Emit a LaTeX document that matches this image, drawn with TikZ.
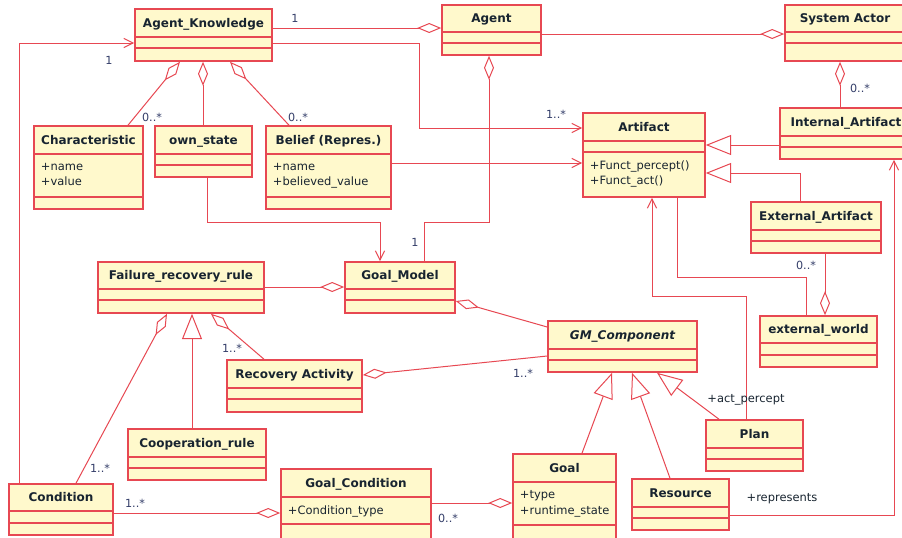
\documentclass[tikz,border=0pt]{standalone}
\usepackage{fontspec}
\setmainfont{DejaVu Sans}
\usetikzlibrary{arrows.meta,fit,calc}

\definecolor{umlred}{RGB}{231,72,82}
\definecolor{umlfill}{RGB}{255,249,204}
\definecolor{umltext}{RGB}{24,36,48}
\definecolor{umlmult}{RGB}{52,62,105}

\newcommand{\umlclass}[9]{%
  \coordinate (#1-a) at (#2,#3);
  \coordinate (#1-b) at (#4,#5);
  \node[clsbox, fit=(#1-a)(#1-b)] (#1) {};
  \draw[clsline] (#2,#6) -- (#4,#6);
  \draw[clsline] (#2,#7) -- (#4,#7);
  \node[clstitle] (#1-t) at ($(#2,#3)!0.5!(#4,#6)$) {#8};
  \node[clsattr] (#1-f) at (#2,#6) {#9};
}

\begin{document}
\begin{tikzpicture}[x=0.75pt,y=0.75pt,yscale=-1,xscale=1,
    umlline/.style={draw=umlred, line width=0.75pt},
    clsline/.style={draw=umlred, line width=1.2pt},
    clsbox/.style={clsline, fill=umlfill, inner sep=0pt},
    clstitle/.style={text=umltext, font=\fontsize{9}{11}\selectfont\bfseries, inner sep=0pt, text height=1.5ex, text depth=0.3ex},
    clsattr/.style={text=umltext, font=\fontsize{8.6}{11.5}\selectfont, anchor=north west, align=left, inner xsep=5pt, inner ysep=6.5pt},
    mult/.style={text=umlmult, font=\fontsize{8.4}{10}\selectfont, inner sep=0pt},
    role/.style={text=umltext, font=\fontsize{8.6}{10}\selectfont, inner sep=0pt},
    agg/.style={umlline, {Diamond[open, length=18pt, width=7.5pt]}-},
    nav/.style={umlline, -{Straight Barb[length=7pt, width=7pt]}},
    gen/.style={umlline, -{Triangle[open, length=19pt, width=15pt]}}]
\useasboundingbox[fill=white] (0,0) rectangle (902,537);

% classes
\umlclass{ak}{135}{9}{272}{61}{37}{48}{Agent\_Knowledge}{}
\umlclass{agent}{442}{5}{541}{55}{32}{43}{Agent}{}
\umlclass{sysact}{785}{5}{905}{61}{32}{43}{System Actor}{}
\umlclass{intart}{780}{108}{912}{159}{136}{147}{Internal\_Artifact}{}
\umlclass{artifact}{583}{113}{705}{197}{141}{152}{Artifact}{}
\node[clsattr] (artifact-op) at (583,152) {+Funct\_percept()\\+Funct\_act()};
\umlclass{extart}{751}{202}{881}{253}{230}{241}{External\_Artifact}{}
\umlclass{extworld}{760}{316}{877}{367}{343}{355}{external\_world}{}
\umlclass{charac}{34}{126}{143}{209}{154}{197}{Characteristic}{+name\\+value}
\umlclass{ownstate}{155}{126}{252}{177}{154}{165}{own\_state}{}
\umlclass{belief}{266}{126}{391}{209}{154}{197}{Belief (Repres.)}{+name\\+believed\_value}
\umlclass{frr}{98}{262}{264}{313}{289}{300}{Failure\_recovery\_rule}{}
\umlclass{goalmodel}{345}{262}{455}{313}{289}{300}{Goal\_Model}{}
\umlclass{recact}{227}{360}{362}{412}{388}{399}{Recovery Activity}{}
\umlclass{coop}{128}{429}{266}{480}{457}{468}{Cooperation\_rule}{}
\umlclass{cond}{9}{484}{113}{535}{511}{523}{Condition}{}
\umlclass{goalcond}{281}{469}{431}{540}{497}{524}{Goal\_Condition}{+Condition\_type}
\umlclass{gmcomp}{548}{321}{697}{372}{349}{360}{\itshape GM\_Component}{}
\umlclass{plan}{706}{420}{803}{471}{448}{459}{Plan}{}
\umlclass{goal}{513}{454}{616}{545}{482}{525}{Goal}{+type\\+runtime\_state}
\umlclass{resource}{632}{479}{729}{530}{507}{518}{Resource}{}

% associations
\draw[agg] (agent.west |- 0,28) -- (ak.east |- 0,28);
\draw[agg] (sysact.west |- 0,34) -- (agent.east |- 0,34);
\draw[nav] (ak.east |- 0,43) -- (419,43) |- (artifact.west |- 0,128);
\draw[nav] (belief.east |- 0,163) -- (artifact.west |- 0,163);
\draw[agg] (ak.south -| 180,0) -- (charac.north -| 128,0);
\draw[agg] (ak.south -| 203,0) -- (ownstate.north -| 203,0);
\draw[agg] (ak.south -| 230,0) -- (belief.north -| 289,0);
\draw[nav] (cond.north -| 19,0) |- (ak.west |- 0,43);
\draw[agg] (agent.south -| 489,0) -- (489,222) -| (goalmodel.north -| 424,0);
\draw[nav] (ownstate.south -| 207,0) -- (207,222) -| (goalmodel.north -| 380,0);
\draw[agg] (goalmodel.west |- 0,287) -- (frr.east |- 0,287);
\draw[agg] (goalmodel.east |- 0,301) -- (gmcomp.west |- 0,327);
\draw[agg] (recact.east |- 0,375) -- (gmcomp.west |- 0,356);
\draw[agg] (frr.south -| 167,0) -- (cond.north -| 76,0);
\draw[gen] (coop.north -| 192,0) -- (frr.south -| 192,0);
\draw[agg] (frr.south -| 211,0) -- (recact.north -| 264,0);
\draw[agg] (goalcond.west |- 0,513) -- (cond.east |- 0,513);
\draw[agg] (goal.west |- 0,503) -- (goalcond.east |- 0,503);
\draw[gen] (goal.north -| 582,0) -- (gmcomp.south -| 612,0);
\draw[gen] (resource.north -| 670,0) -- (gmcomp.south -| 632,0);
\draw[gen] (plan.north -| 719,0) -- (gmcomp.south -| 657,0);
\draw[nav] (plan.north -| 746,0) -- (746,296) -| (artifact.south -| 652,0);
\draw[umlline] (artifact.south -| 677,0) -- (677,277) -| (extworld.north -| 806,0);
\draw[agg] (extworld.north -| 825,0) -- (extart.south -| 825,0);
\draw[gen] (extart.north -| 800,0) |- (artifact.east |- 0,173);
\draw[gen] (intart.west |- 0,145) -- (artifact.east |- 0,145);
\draw[agg] (sysact.south -| 840,0) -- (intart.north -| 840,0);
\draw[nav] (resource.east |- 0,515) -| (intart.south -| 894,0);

% multiplicities and roles
\node[mult] (m1) at (295,18) {1};
\node[mult] (m2) at (109,60) {1};
\node[mult] (m3) at (152,117) {0..*};
\node[mult] (m4) at (298,117) {0..*};
\node[mult] (m5) at (556,114) {1..*};
\node[mult] (m6) at (860,88) {0..*};
\node[mult] (m7) at (415,242) {1};
\node[mult] (m8) at (232,348) {1..*};
\node[mult] (m9) at (100,468) {1..*};
\node[mult] (m10) at (135,503) {1..*};
\node[mult] (m11) at (448,518) {0..*};
\node[mult] (m12) at (523,373) {1..*};
\node[mult] (m13) at (806,265) {0..*};
\node[role] (r1) at (746,400) {+act\_percept};
\node[role] (r2) at (782,499) {+represents};
\end{tikzpicture}
\end{document}
